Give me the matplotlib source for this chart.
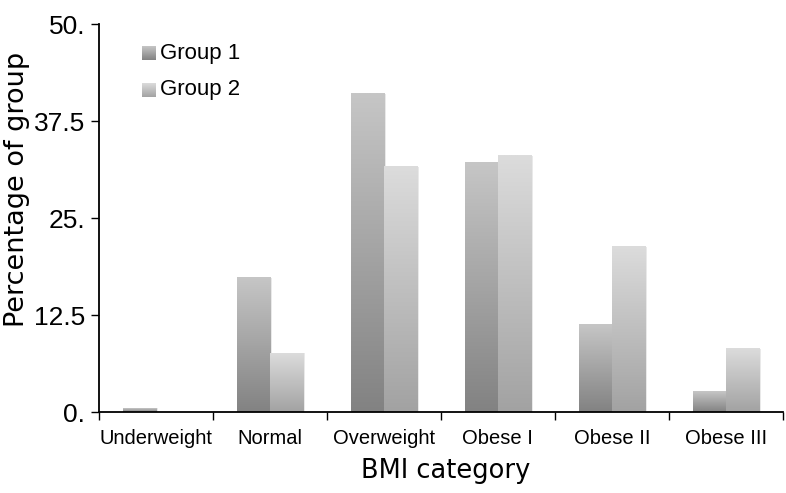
import numpy as np
import matplotlib.pyplot as plt
from matplotlib.colors import LinearSegmentedColormap

categories = ['Underweight', 'Normal', 'Overweight', 'Obese I', 'Obese II', 'Obese III']
group1 = [0.5, 17.3, 41.0, 32.2, 11.3, 2.7]
group2 = [0.0, 7.6, 31.6, 33.0, 21.3, 8.2]
series_names = ['Group 1', 'Group 2']
ytick_values = [0, 12.5, 25, 37.5, 50]
ytick_labels = ['0.', '12.5', '25.', '37.5', '50.']

cmap1 = LinearSegmentedColormap.from_list('g1', ['#828282', '#c6c6c6'])
cmap2 = LinearSegmentedColormap.from_list('g2', ['#a2a2a2', '#dcdcdc'])
grad = np.linspace(0, 1, 256).reshape(-1, 1)

fig = plt.figure(figsize=(7.86, 4.93), dpi=100)
ax = fig.add_axes([0.126, 0.164, 0.87, 0.787])

x = np.arange(len(categories)) + 0.5
w = 0.29

for vals, off, cmap in [(group1, -w / 2, cmap1), (group2, w / 2, cmap2)]:
    # soft shadow on the right side of each bar
    ax.bar(x + off + 0.02, vals, w, color='#e9e9e9', zorder=1)
    b = ax.bar(x + off, vals, w, color='none', zorder=2)
    for r in b:
        h = r.get_height()
        if h <= 0:
            continue
        ax.imshow(grad, extent=[r.get_x(), r.get_x() + r.get_width(), 0, h],
                  origin='lower', aspect='auto', cmap=cmap, zorder=2)

ax.set_xlim(0, 6)
ax.set_ylim(0, 50)

ax.set_xticks(np.arange(0, 7))
ax.set_xticklabels([])
ax.set_xticks(x, minor=True)
ax.set_xticklabels(categories, minor=True, fontsize=14.5, family='Liberation Sans')
ax.tick_params(axis='x', which='minor', length=0, pad=12)
ax.tick_params(axis='x', which='major', length=6, width=1, direction='out')

ax.set_yticks(ytick_values)
ax.set_yticklabels(ytick_labels, fontsize=19, family='Liberation Sans')
ax.tick_params(axis='y', length=6, width=1, direction='out', pad=4)

for s in ['top', 'right']:
    ax.spines[s].set_visible(False)
for s in ['left', 'bottom']:
    ax.spines[s].set_linewidth(1.3)

fig.text(0.021, 0.615, 'Percentage of group', rotation=90, fontsize=19.5,
         family='DejaVu Sans', ha='center', va='center')
fig.text(0.567, 0.044, 'BMI category', fontsize=18.5,
         family='DejaVu Sans', ha='center', va='center')

# legend with gradient squares
for i, (name, cmap) in enumerate([(series_names[0], cmap1), (series_names[1], cmap2)]):
    yc = 1 - (53 + 37 * i) / 493
    lax = fig.add_axes([142 / 786, yc - 7 / 493, 14 / 786, 14 / 493])
    lax.imshow(grad, origin='lower', aspect='auto', cmap=cmap)
    lax.axis('off')
    fig.text(160 / 786, yc, name, fontsize=16, family='Liberation Sans',
             ha='left', va='center')

fig.savefig('out.png', dpi=100)
